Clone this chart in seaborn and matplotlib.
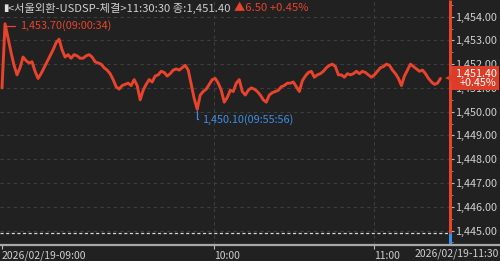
import matplotlib
matplotlib.use("Agg")
import matplotlib.pyplot as plt
import seaborn as sns
import numpy as np
import pandas as pd
from matplotlib.lines import Line2D
from matplotlib.ticker import FuncFormatter, MultipleLocator

# ---- data ----
prices = [
    1451.00, 1453.70, 1453.10, 1452.50, 1451.95, 1451.55, 1451.85, 1452.30, 1452.15, 1452.05,
    1452.10, 1451.70, 1451.40, 1451.60, 1451.85, 1452.10, 1452.35, 1452.60, 1452.90, 1453.05,
    1452.60, 1452.30, 1452.40, 1452.25, 1452.40, 1452.35, 1452.25, 1452.25, 1452.35, 1452.40,
    1452.30, 1452.10, 1452.05, 1452.00, 1451.85, 1451.75, 1451.60, 1451.35, 1451.05, 1450.95,
    1451.10, 1451.15, 1451.20, 1451.10, 1451.35, 1451.10, 1450.50, 1450.90, 1451.15, 1451.35,
    1451.25, 1451.50, 1451.55, 1451.70, 1451.65, 1451.50, 1451.60, 1451.75, 1451.80, 1451.75,
    1451.85, 1451.95, 1451.75, 1451.15, 1450.55, 1450.10, 1450.70, 1450.85, 1450.95, 1451.15,
    1451.35, 1451.40, 1451.20, 1450.90, 1450.40, 1450.60, 1450.90, 1450.85, 1451.20, 1451.35,
    1450.85, 1450.70, 1450.90, 1451.00, 1450.95, 1450.85, 1450.70, 1450.50, 1450.40, 1450.70,
    1450.80, 1450.85, 1450.90, 1451.05, 1451.10, 1451.20, 1451.20, 1451.25, 1451.05, 1450.85,
    1451.30, 1451.50, 1451.65, 1451.70, 1451.45, 1451.55, 1451.60, 1451.70, 1451.85, 1451.95,
    1452.00, 1451.90, 1451.55, 1451.55, 1451.45, 1451.60, 1451.55, 1451.60, 1451.70, 1451.60,
    1451.70, 1451.65, 1451.55, 1451.45, 1451.55, 1451.70, 1451.85, 1451.90, 1452.00, 1451.95,
    1451.75, 1451.60, 1451.40, 1451.10, 1451.50, 1451.75, 1452.00, 1451.90, 1451.80, 1451.70,
    1451.75, 1451.60, 1451.40, 1451.25, 1451.15, 1451.20, 1451.40,
]
prev_close = 1444.90
last_price = 1451.40
change = 6.50
change_pct = 0.45
high_label = "1,453.70(09:00:34)"
low_label = "1,450.10(09:55:56)"
header_main = "<서울외환-USDSP-체결>11:30:30 종:1,451.40"
header_change = "▲6.50 +0.45%"
time_tick_pos = [0, 70.67, 124]
time_tick_labels = ["2026/02/19-09:00", "10:00", "11:00"]
end_label = "2026/02/19-11:30"
y_ticks = [1445, 1446, 1447, 1448, 1449, 1450, 1451, 1452, 1453, 1454]

df = pd.DataFrame({"seq": np.arange(len(prices)), "price": prices})

# ---- style ----
BG = "#212121"
RED = "#e8432c"
BOX_RED = "#dc3d28"
BLUE = "#3d8ee6"
TXT = "#cfcfcf"
GRID = "#3e3e3e"

sns.set_theme(style="dark", rc={"axes.facecolor": BG, "figure.facecolor": BG})
FAM = ["Liberation Sans Narrow", "Noto Sans CJK KR", "DejaVu Sans"]
plt.rcParams["font.family"] = FAM

fig = plt.figure(figsize=(5.0, 2.61), dpi=100)
ax = fig.add_axes([0.0, 16 / 261, 449.5 / 500, 245 / 261])
ax.set_facecolor(BG)

sns.lineplot(data=df, x="seq", y="price", ax=ax, color=RED, linewidth=2.1, zorder=3)

ax.set_xlim(-0.67, 149)
ax.set_ylim(1444.39, 1454.70)

# grid
for yv in y_ticks:
    ax.axhline(yv, color=GRID, lw=0.8, ls=(0, (3, 3)), zorder=1)
for xv in time_tick_pos[1:]:
    ax.axvline(xv, color=GRID, lw=0.8, ls=(0, (3, 3)), zorder=1)
ax.axhline(prev_close, color="#d6d6d6", lw=0.9, ls=(0, (2.5, 2)), zorder=2)

# spines
for s in ["top", "left", "right", "bottom"]:
    ax.spines[s].set_visible(False)
xr = ax.get_xlim()[1]
yb, yt = ax.get_ylim()
ax.plot([xr, xr], [prev_close, yt], color=RED, lw=2.2, clip_on=False, zorder=5, solid_capstyle="butt")
ax.plot([xr, xr], [yb, prev_close], color=BLUE, lw=2.2, clip_on=False, zorder=5, solid_capstyle="butt")
fig.add_artist(Line2D([0, 1], [16 / 261, 16 / 261], transform=fig.transFigure,
                      color="#a8a8a8", lw=1.6))

# y axis on right
ax.yaxis.tick_right()
ax.set_yticks(y_ticks)
ax.yaxis.set_minor_locator(MultipleLocator(0.5))
ax.yaxis.set_major_formatter(FuncFormatter(lambda v, p: f"{v:,.2f}"))
ax.tick_params(axis="y", which="major", right=True, length=3, width=0.8, color="#bdbdbd",
               labelsize=7.8, labelcolor=TXT, pad=1.0, direction="out")
ax.tick_params(axis="y", which="minor", right=True, length=2, width=0.6, color="#9a9a9a")
ax.set_ylabel("")

# x axis
ax.set_xticks(time_tick_pos)
ax.set_xticklabels(time_tick_labels, ha="left")
ax.tick_params(axis="x", bottom=True, length=3, width=0.8, color="#bdbdbd",
               labelsize=7.5, labelcolor=TXT, pad=1.0, direction="out")
ax.set_xlabel("")
fig.text(0.997, 0.008, end_label, ha="right", va="bottom", fontsize=7.5, color=TXT, family=FAM)

# high / low annotations
imax = int(np.argmax(prices))
imin = int(np.argmin(prices))
ax.annotate(high_label, xy=(imax, prices[imax]), xytext=(15, -2), textcoords="offset pixels",
            ha="left", va="center", fontsize=7.8, color=RED,
            arrowprops=dict(arrowstyle="-", color=RED, lw=0.9, shrinkA=1, shrinkB=1,
                            connectionstyle="angle,angleA=0,angleB=90,rad=0"))
ax.annotate(low_label, xy=(imin, prices[imin]), xytext=(5, -10), textcoords="offset pixels",
            ha="left", va="center", fontsize=7.8, color=BLUE,
            arrowprops=dict(arrowstyle="-", color=BLUE, lw=0.9, shrinkA=1, shrinkB=1.5,
                            connectionstyle="angle,angleA=0,angleB=90,rad=0"))

# last price box
ax.annotate(f"{last_price:,.2f}\n+{change_pct:.2f}%", xy=(xr, last_price), xytext=(47, 0),
            textcoords="offset pixels", ha="right", va="center", fontsize=7.8, color="white",
            linespacing=0.95, annotation_clip=False, zorder=6,
            bbox=dict(boxstyle="square,pad=0.2", fc=BOX_RED, ec="none"))
ax.plot([xr], [last_price], marker="<", ms=7, color=BOX_RED, clip_on=False, zorder=6,
        markeredgewidth=0)

# header
fig.text(0.006, 0.968, "▮", ha="left", va="center", fontsize=7, color="#e0e0e0", family=FAM)
t1 = fig.text(0.016, 0.968, header_main, ha="left", va="center", fontsize=8.1, color=TXT, family=FAM)
fig.canvas.draw()
bb = t1.get_window_extent()
x_end = bb.x1 / fig.bbox.width
fig.text(x_end + 0.008, 0.968, header_change, ha="left", va="center", fontsize=8.1, color=RED, family=FAM)

fig.savefig("out.png", dpi=100, facecolor=BG)
